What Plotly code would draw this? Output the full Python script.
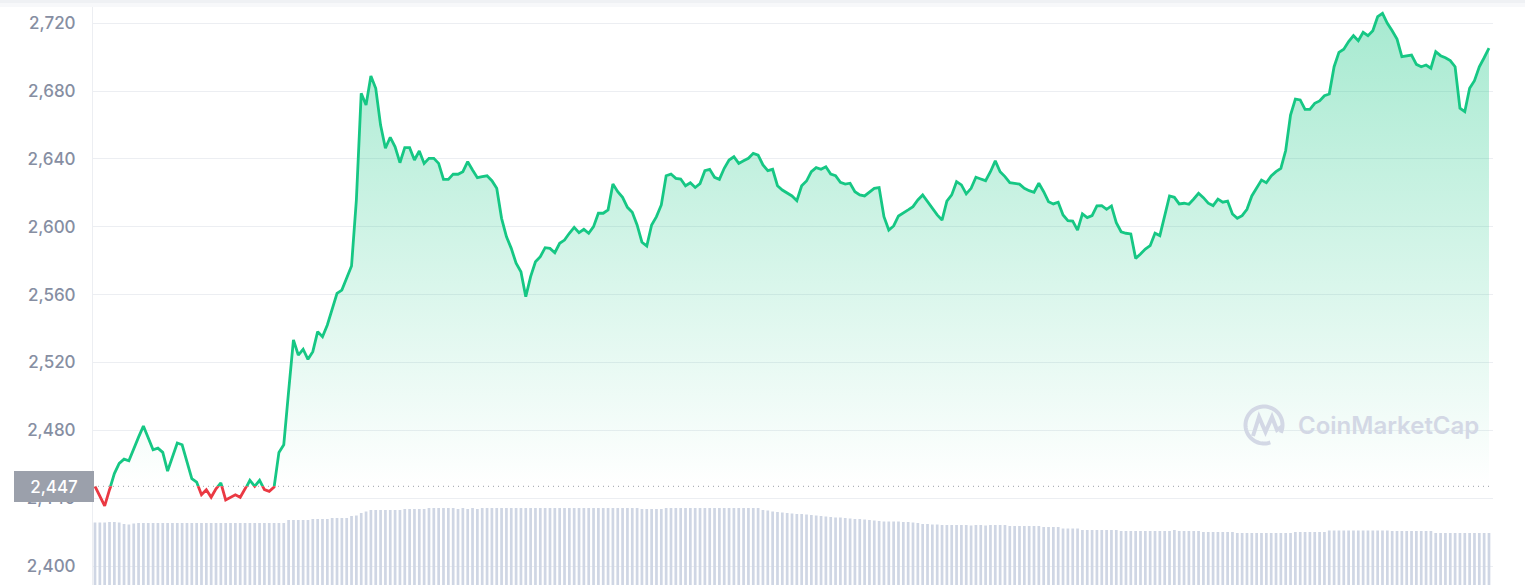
import numpy as np
import pandas as pd
import plotly.graph_objects as go

# ---------------- data ----------------
times = pd.date_range("2024-06-10 00:00", periods=289, freq="5min")

price = [
    2447.0, 2441.0, 2435.5, 2445.0, 2454.5, 2460.5, 2463.0, 2462.0, 2469.5, 2476.0,
    2482.5, 2475.0, 2468.5, 2469.5, 2467.0, 2456.0, 2464.5, 2472.5, 2471.5, 2462.0,
    2451.5, 2449.5, 2442.0, 2445.0, 2440.5, 2445.5, 2449.0, 2439.0, 2440.5, 2442.0,
    2440.5, 2445.0, 2450.5, 2447.0, 2450.5, 2445.0, 2444.0, 2446.5, 2467.0, 2471.5,
    2503.0, 2533.3, 2524.4, 2527.8, 2521.9, 2526.4, 2538.2, 2535.2, 2542.1, 2552.0,
    2560.8, 2562.7, 2569.6, 2576.9, 2615.8, 2678.7, 2671.8, 2688.9, 2681.7, 2660.0,
    2646.3,
    2652.8, 2647.2, 2637.8, 2646.7, 2646.7, 2639.4, 2644.7, 2637.4, 2640.4, 2640.4,
    2637.4, 2628.0, 2628.0, 2631.1, 2631.0, 2632.5, 2638.4, 2633.5, 2629.0, 2629.6,
    2630.1, 2627.2, 2622.7, 2605.0, 2594.2, 2587.3, 2578.5, 2573.5, 2558.8, 2570.6,
    2579.4, 2582.4, 2587.7, 2587.3, 2584.7, 2590.3, 2592.2, 2596.2, 2599.7, 2596.5,
    2598.5, 2596.2, 2600.1, 2608.0, 2608.0, 2610.0, 2625.2, 2620.7, 2617.4, 2611.5,
    2608.6, 2601.1, 2590.9, 2588.7, 2601.1, 2606.0, 2612.9, 2630.1, 2631.1, 2628.6,
    2628.2, 2624.2, 2626.0, 2623.2, 2625.5,
    2633.1, 2633.9, 2629.2, 2628.0, 2634.5, 2639.4, 2641.3, 2637.4, 2639.0, 2640.4,
    2643.3, 2642.3, 2636.5, 2633.1, 2633.9, 2624.2, 2621.7, 2619.8, 2618.2, 2615.4,
    2624.2, 2627.0, 2632.5, 2634.9, 2633.9, 2635.4, 2631.1, 2630.1, 2626.2, 2625.2,
    2625.7, 2620.7, 2618.8, 2618.2, 2620.7, 2622.7, 2623.1, 2606.0, 2598.1, 2600.5,
    2606.4, 2608.0, 2610.0, 2611.9, 2615.8, 2618.8, 2614.8, 2610.9, 2607.0, 2604.0,
    2615.2, 2618.8, 2626.6, 2624.7, 2619.4, 2622.7, 2629.2, 2628.2, 2627.2, 2632.5,
    2638.9,
    2632.5, 2629.6, 2626.0, 2625.5, 2625.2, 2622.7, 2621.3, 2620.4, 2625.7, 2620.7,
    2614.8, 2613.5, 2614.5, 2607.0, 2603.6, 2603.4, 2598.1, 2607.6, 2605.4, 2606.6,
    2612.3, 2612.5, 2610.3, 2612.3, 2602.4, 2597.1, 2596.2, 2595.8, 2581.4, 2584.0,
    2586.9, 2588.9, 2596.2, 2594.8, 2607.0, 2618.2, 2617.4, 2613.5, 2613.9, 2613.3,
    2616.4, 2619.8, 2617.2, 2613.9, 2612.5, 2616.3, 2614.5, 2615.2, 2607.6, 2605.0,
    2606.6, 2610.3, 2618.2, 2622.7, 2627.6, 2626.0, 2630.0, 2632.5, 2634.5, 2645.0,
    2665.9, 2675.3, 2674.8, 2669.3, 2669.3, 2672.8, 2674.2, 2677.3, 2678.3, 2694.4,
    2702.9, 2704.7, 2709.2, 2712.7, 2709.7, 2714.7, 2712.7, 2715.6, 2723.9, 2725.9,
    2720.0, 2715.6, 2710.7, 2700.3, 2700.9, 2701.3, 2695.8, 2694.4, 2695.4, 2693.5,
    2703.3, 2700.9, 2699.7, 2698.0, 2694.4, 2669.9, 2667.9, 2681.7, 2686.2, 2694.4,
    2699.7, 2705.3,
]

volume = [
    12.5, 12.5, 12.5, 12.6, 12.6, 12.5, 12.2, 12.1, 12.3, 12.4,
    12.4, 12.4, 12.4, 12.4, 12.4, 12.4, 12.4, 12.4, 12.4, 12.4,
    12.4, 12.4, 12.4, 12.4, 12.4, 12.4, 12.4, 12.4, 12.4, 12.4,
    12.4, 12.4, 12.4, 12.4, 12.4, 12.4, 12.4, 12.4, 12.4, 12.4,
    13.0, 13.0, 13.0, 13.0, 13.0, 13.2, 13.2, 13.2, 13.2, 13.4,
    13.4, 13.4, 13.4, 13.8, 13.9, 14.4, 14.7, 15.0, 15.0, 15.0,
    15.0, 15.0, 15.0, 15.0, 15.2, 15.2, 15.2, 15.2, 15.2, 15.4,
    15.4, 15.4, 15.4, 15.4, 15.4, 15.2, 15.4, 15.2, 15.4, 15.2,
    15.4, 15.4, 15.4, 15.4, 15.4, 15.4, 15.4, 15.4, 15.4, 15.4,
    15.4, 15.4, 15.4, 15.4, 15.4, 15.4, 15.4, 15.4, 15.4, 15.4,
    15.4, 15.4, 15.4, 15.4, 15.4, 15.4, 15.4, 15.4, 15.4, 15.4,
    15.4, 15.4, 15.4, 15.2, 15.2, 15.2, 15.2, 15.2, 15.4, 15.4,
    15.4, 15.4, 15.4, 15.4, 15.4, 15.4, 15.4, 15.4, 15.4, 15.4,
    15.4, 15.4, 15.4, 15.4, 15.4, 15.4, 15.4, 15.4, 15.0, 14.9,
    14.7, 14.6, 14.5, 14.4, 14.3, 14.2, 14.2, 14.1, 14.0, 13.9,
    13.8, 13.7, 13.6, 13.5, 13.5, 13.4, 13.3, 13.2, 13.2, 13.1,
    13.0, 12.9, 12.8, 12.7, 12.7, 12.7, 12.7, 12.6, 12.6, 12.5,
    12.4, 12.2, 12.2, 12.1, 12.1, 12.0, 12.0, 12.0, 12.0, 12.0,
    12.0, 11.9, 12.0, 12.0, 11.9, 12.0, 12.0, 12.0, 12.0, 11.8,
    11.8, 11.8, 11.8, 11.8, 11.8, 11.8, 11.6, 11.6, 11.6, 11.6,
    11.3, 11.3, 11.3, 11.3, 11.0, 11.0, 11.0, 11.0, 11.0, 11.0,
    11.0, 11.0, 10.8, 10.8, 10.8, 10.8, 10.8, 10.8, 10.8, 10.8,
    10.8, 10.8, 10.8, 11.0, 10.8, 10.8, 10.8, 10.8, 10.8, 10.6,
    10.6, 10.6, 10.6, 10.6, 10.6, 10.6, 10.4, 10.4, 10.4, 10.4,
    10.4, 10.4, 10.4, 10.4, 10.4, 10.4, 10.4, 10.4, 10.6, 10.6,
    10.6, 10.6, 10.6, 10.6, 10.6, 10.9, 10.9, 10.9, 10.9, 10.9,
    10.9, 10.9, 10.9, 10.9, 10.9, 10.9, 10.9, 10.9, 10.8, 10.8,
    10.8, 10.8, 10.8, 10.8, 10.8, 10.8, 10.8, 10.4, 10.4, 10.4,
    10.4, 10.4, 10.4, 10.4, 10.4, 10.4, 10.4, 10.4, 10.4,
]

ref_price = 2447
tick_vals = [2400, 2440, 2480, 2520, 2560, 2600, 2640, 2680, 2720]

# ---------------- styling / layout constants ----------------
GREEN = "#16c784"
RED = "#ea3943"
W, H = 1525, 585
ML, MR = 93, 32
PW = W - ML - MR
Y_MIN, Y_MAX = 2388.8, 2733.74
split = (ref_price - Y_MIN) / (Y_MAX - Y_MIN)
step = pd.Timedelta(minutes=5)
x_range = [times[0] - 0.413 * step, times[-1] + 0.83 * step]


def px_x(p):
    return (p - ML) / PW


def px_y(p):
    return (H - p) / H


fig = go.Figure()

# volume bars
fig.add_trace(go.Bar(x=times, y=volume, yaxis="y4", marker=dict(color="#cfd6e4", line=dict(width=0)),
                     hoverinfo="skip", showlegend=False))

# green (above reference) line + gradient fill
fig.add_trace(go.Scatter(
    x=times, y=price, yaxis="y2", mode="lines",
    line=dict(color=GREEN, width=2.8),
    fill="tozeroy",
    fillgradient=dict(type="vertical",
                      colorscale=[[0, "rgba(22,199,132,0.0)"], [1, "rgba(22,199,132,0.38)"]],
                      start=ref_price, stop=max(price)),
    hoverinfo="skip", showlegend=False))

# red (below reference) line
fig.add_trace(go.Scatter(
    x=times, y=price, yaxis="y3", mode="lines",
    line=dict(color=RED, width=2.8),
    hoverinfo="skip", showlegend=False))

shapes = []
# top shadow
shapes.append(dict(type="rect", xref="paper", yref="paper", x0=px_x(0), x1=px_x(W),
                   y0=px_y(3), y1=px_y(0), fillcolor="#eff1f4", line=dict(width=0), layer="above"))
shapes.append(dict(type="rect", xref="paper", yref="paper", x0=px_x(0), x1=px_x(W),
                   y0=px_y(7), y1=px_y(3), fillcolor="#f7f8fa", line=dict(width=0), layer="above"))
# reference dotted line
shapes.append(dict(type="line", xref="paper", yref="y", x0=0, x1=1, y0=ref_price, y1=ref_price,
                   line=dict(color="#9a9fa8", width=1, dash="1px,4px"), layer="below"))

# watermark logo (circle with gap + M)
cx, cy, r = 1264, 425, 18.5
th = np.radians(np.linspace(-25, 290, 70))
pts = [(cx + r * np.cos(t), cy - r * np.sin(t)) for t in th]
path = "M " + " L ".join(f"{px_x(a):.5f},{px_y(b):.5f}" for a, b in pts)
shapes.append(dict(type="path", xref="paper", yref="paper", path=path,
                   line=dict(color="#d3d8e5", width=4), layer="above"))
mpts = [(1253, 436), (1259, 417), (1265.5, 432), (1272, 417), (1277, 430), (1283, 426)]
mpath = "M " + " L ".join(f"{px_x(a):.5f},{px_y(b):.5f}" for a, b in mpts)
shapes.append(dict(type="path", xref="paper", yref="paper", path=mpath,
                   line=dict(color="#d3d8e5", width=4), layer="above"))

annotations = [
    dict(text="CoinMarketCap", xref="paper", yref="paper", x=px_x(1296), y=px_y(425),
         xanchor="left", yanchor="middle", showarrow=False,
         font=dict(family="Inter", size=24, color="#d3d8e5", weight=600)),
    dict(text="2,447", xref="paper", yref="y", x=px_x(54), y=ref_price,
         xanchor="center", yanchor="middle", showarrow=False,
         width=80, height=31, bgcolor="#9ba0ab", borderpad=0, borderwidth=0,
         font=dict(family="Inter", size=17, color="#ffffff", weight=500)),
]

fig.update_layout(
    width=W, height=H,
    margin=dict(l=ML, r=MR, t=0, b=0),
    paper_bgcolor="#ffffff", plot_bgcolor="rgba(0,0,0,0)",
    bargap=0.44,
    showlegend=False,
    hovermode=False,
    xaxis=dict(range=x_range, visible=False, showgrid=False, zeroline=False),
    yaxis=dict(domain=[0, 1], range=[Y_MIN, Y_MAX], tickvals=tick_vals, tickformat=",d",
               showgrid=True, gridcolor="#eceef2", gridwidth=1, zeroline=False,
               showline=True, linecolor="#eceef2", linewidth=1, ticks="",
               ticklabelstandoff=13,
               tickfont=dict(family="Inter", size=17, color="#868ea2", weight=500)),
    yaxis2=dict(domain=[split, 1], range=[ref_price, Y_MAX], visible=False, anchor="x"),
    yaxis3=dict(domain=[0, split], range=[Y_MIN, ref_price], visible=False, anchor="x"),
    yaxis4=dict(overlaying="y", range=[0, 117], visible=False),
    shapes=shapes,
    annotations=annotations,
)

fig.write_html("out.html",
               config={"displayModeBar": False, "staticPlot": True},
               post_script="document.body.style.margin='0px';document.body.style.overflow='hidden';")
